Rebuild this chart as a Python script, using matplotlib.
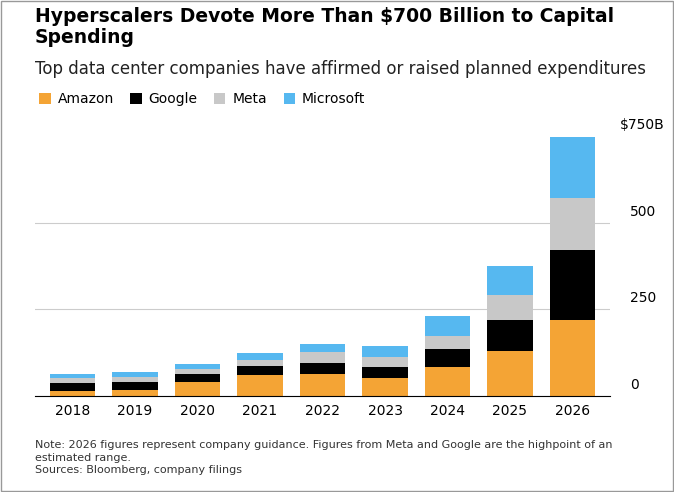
"""Draw the hyperscaler capital spending stacked bar chart."""

from __future__ import annotations

import matplotlib.pyplot as plt
from matplotlib.patches import Rectangle


YEARS = ["2018", "2019", "2020", "2021", "2022", "2023", "2024", "2025", "2026"]
AMAZON = [13.4, 16.9, 40.1, 61.0, 63.6, 52.7, 83.0, 131.0, 219.0]
GOOGLE = [25.1, 23.5, 22.3, 24.6, 31.5, 32.3, 52.5, 90.0, 204.0]
META = [13.9, 15.1, 15.1, 18.6, 31.4, 28.1, 39.2, 71.0, 148.0]
MICROSOFT = [11.6, 13.9, 15.4, 20.6, 23.9, 32.3, 55.7, 83.0, 176.0]
Y_TICKS = [0, 250, 500, 750]
Y_LABELS = ["0", "250", "500", "$750B"]

COLORS = {"Amazon": "#f4a435", "Google": "#000000", "Meta": "#c8c8c8", "Microsoft": "#56b8f0"}


def make_figure() -> None:
    fig = plt.figure(figsize=(6.74, 4.92), dpi=100)
    fig.patches.append(Rectangle((0.002, 0.002), 0.996, 0.996, transform=fig.transFigure,
                                 fill=False, edgecolor="#999999", linewidth=1))
    ax = fig.add_axes([0.052, 0.195, 0.853, 0.535])
    x = range(len(YEARS))
    bottom = [0.0] * len(YEARS)
    for name, values in (("Amazon", AMAZON), ("Google", GOOGLE), ("Meta", META), ("Microsoft", MICROSOFT)):
        ax.bar(x, values, bottom=bottom, width=0.73, color=COLORS[name], label=name, zorder=3)
        bottom = [b + v for b, v in zip(bottom, values)]
    ax.set_xlim(-0.6, len(YEARS) - 0.4)
    ax.set_ylim(0, 760)
    ax.set_xticks(list(x))
    ax.set_xticklabels(YEARS, fontsize=10)
    ax.set_yticks(Y_TICKS[:-1])  # no gridline at the top value
    ax.set_yticklabels([])
    ax.tick_params(axis="x", length=0, pad=6)
    ax.tick_params(axis="y", length=0)
    ax.grid(axis="y", color="#cccccc", linewidth=0.8, zorder=0)
    for val, lab in zip(Y_TICKS, Y_LABELS):
        ax.text(1.0 + 0.095 if val == 750 else 1.0 + 0.035, val + 12, lab, transform=ax.get_yaxis_transform(),
                ha="right" if val == 750 else "left", va="bottom", fontsize=10)
    for side in ("top", "right", "left"):
        ax.spines[side].set_visible(False)
    ax.spines["bottom"].set_color("black")
    ax.spines["bottom"].set_zorder(4)

    fig.text(0.052, 0.985, "Hyperscalers Devote More Than $700 Billion to Capital\nSpending",
             fontsize=13.5, fontweight="bold", va="top", linespacing=1.1)
    fig.text(0.052, 0.878, "Top data center companies have affirmed or raised planned expenditures",
             fontsize=12, va="top", color="#222222")
    handles, labels = ax.get_legend_handles_labels()
    fig.legend(handles, labels, loc="upper left", bbox_to_anchor=(0.04, 0.838), ncol=4, frameon=False,
               fontsize=10, handlelength=0.8, handleheight=0.8, columnspacing=1.2, handletextpad=0.5)
    fig.text(0.052, 0.105, "Note: 2026 figures represent company guidance. Figures from Meta and Google are the highpoint of an\n"
             "estimated range.\nSources: Bloomberg, company filings", fontsize=8, va="top", color="#333333",
             linespacing=1.3)
    fig.savefig("out.png", dpi=100)
    plt.close(fig)


def main() -> int:
    make_figure()
    return 0


if __name__ == "__main__":
    raise SystemExit(main())
